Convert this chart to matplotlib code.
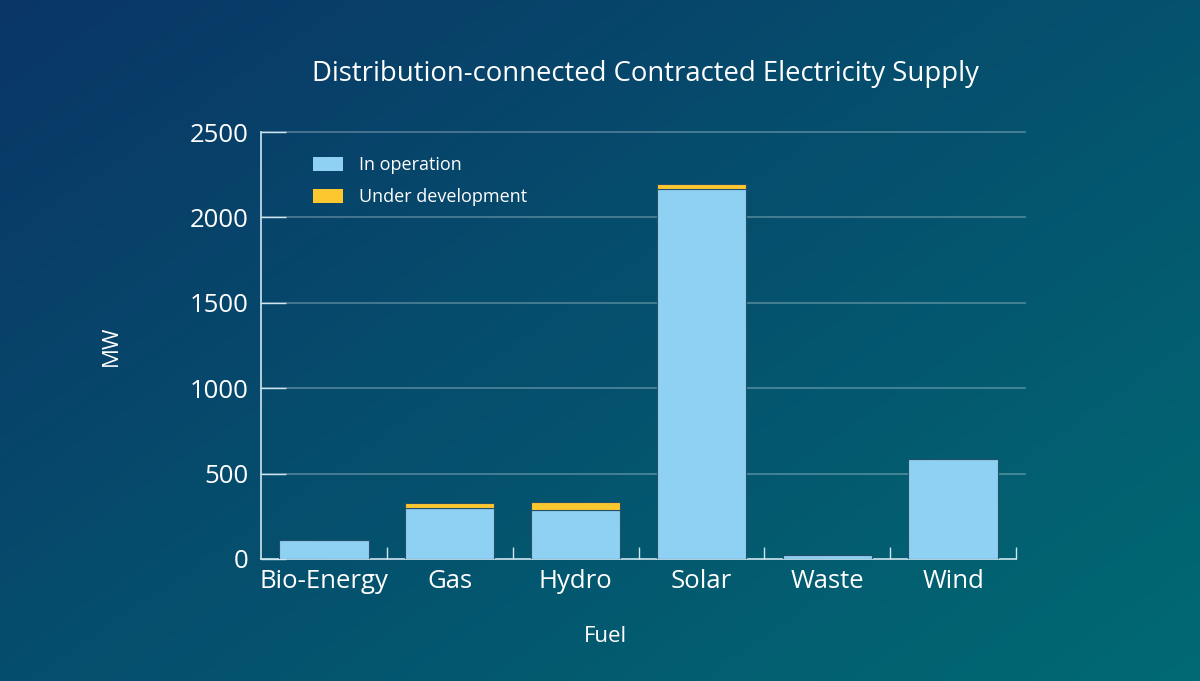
import numpy as np
import matplotlib
matplotlib.use("Agg")
import matplotlib.pyplot as plt
from matplotlib.colors import LinearSegmentedColormap
from matplotlib.patches import Patch

categories = ["Bio-Energy", "Gas", "Hydro", "Solar", "Waste", "Wind"]
in_operation = [111, 299, 287, 2166, 23, 585]
under_development = [0, 29, 47, 30, 0, 0]
yticks = [0, 500, 1000, 1500, 2000, 2500]

plt.rcParams['font.family'] = ['Open Sans', 'DejaVu Sans']
W, H = 1200, 681
fig = plt.figure(figsize=(W/100, H/100), dpi=100)

# gradient background
bg = fig.add_axes([0, 0, 1, 1], zorder=-10)
yy, xx = np.mgrid[0:1:200j, 0:1:350j]
t = (xx * 0.55 + yy * 0.45)
cmap = LinearSegmentedColormap.from_list("bg", ["#0a3666", "#05506e", "#016a72"])
bg.imshow(t, cmap=cmap, aspect='auto', extent=[0, 1, 0, 1], origin='upper')
bg.set_axis_off()

ax = fig.add_axes([261/W, 1-559/H, (1016-261)/W, (559-132)/H])
ax.patch.set_alpha(0)
x = np.arange(len(categories))
blue = "#8fd1f3"
yellow = "#fdc82f"
edge = "#24506a"
ax.bar(x, in_operation, width=0.71, color=blue, edgecolor=edge, linewidth=0.8, zorder=3)
ax.bar(x, under_development, width=0.71, bottom=in_operation, color=yellow,
       edgecolor=edge, linewidth=0.8, zorder=3)

ax.set_xlim(-0.5, len(categories) - 0.5)
ax.set_ylim(0, 2500)
ax.set_yticks(yticks)
ax.set_yticklabels([str(v) for v in yticks], fontsize=18.5, color="white")
ax.set_xticks(x)
ax.set_xticklabels(categories, fontsize=18.5, color="white")
ax.set_xticks(np.arange(len(categories)) + 0.5, minor=True)
ax.tick_params(axis='x', which='major', length=0, pad=7)
ax.tick_params(axis='x', which='minor', direction='in', length=9, color="#cfe6f0", width=1)
ax.tick_params(axis='y', which='major', direction='in', length=18, color="#cfe6f0", width=1, pad=9)

for v in yticks[1:]:
    ax.plot([0, 1.012], [v, v], transform=ax.get_yaxis_transform(), color="white",
            alpha=0.3, lw=1.2, clip_on=False, zorder=1)

for s in ["top", "right"]:
    ax.spines[s].set_visible(False)
for s in ["left", "bottom"]:
    ax.spines[s].set_color("#cfe6f0")
    ax.spines[s].set_linewidth(1.2)

ax.set_ylabel("MW", fontsize=16, color="white", labelpad=0)
ax.yaxis.set_label_coords((122-261)/(1016-261), 0.5)
ax.set_xlabel("Fuel", fontsize=16, color="white")
ax.xaxis.set_label_coords((605-261)/(1016-261), (559-626)/(559-132))

fig.text(645/W, 1-74/H, "Distribution-connected Contracted Electricity Supply",
         fontsize=19.8, color="white", ha="center", va="center")

handles = [Patch(facecolor=blue, edgecolor="none", label="In operation"),
           Patch(facecolor=yellow, edgecolor="none", label="Under development")]
leg = ax.legend(handles=handles, loc="upper left", bbox_to_anchor=(0.047, 0.982),
                frameon=False, fontsize=13, labelcolor="white",
                handlelength=1.7, handleheight=0.8, handletextpad=0.85, labelspacing=0.8)

fig.savefig("out.png", dpi=100)
